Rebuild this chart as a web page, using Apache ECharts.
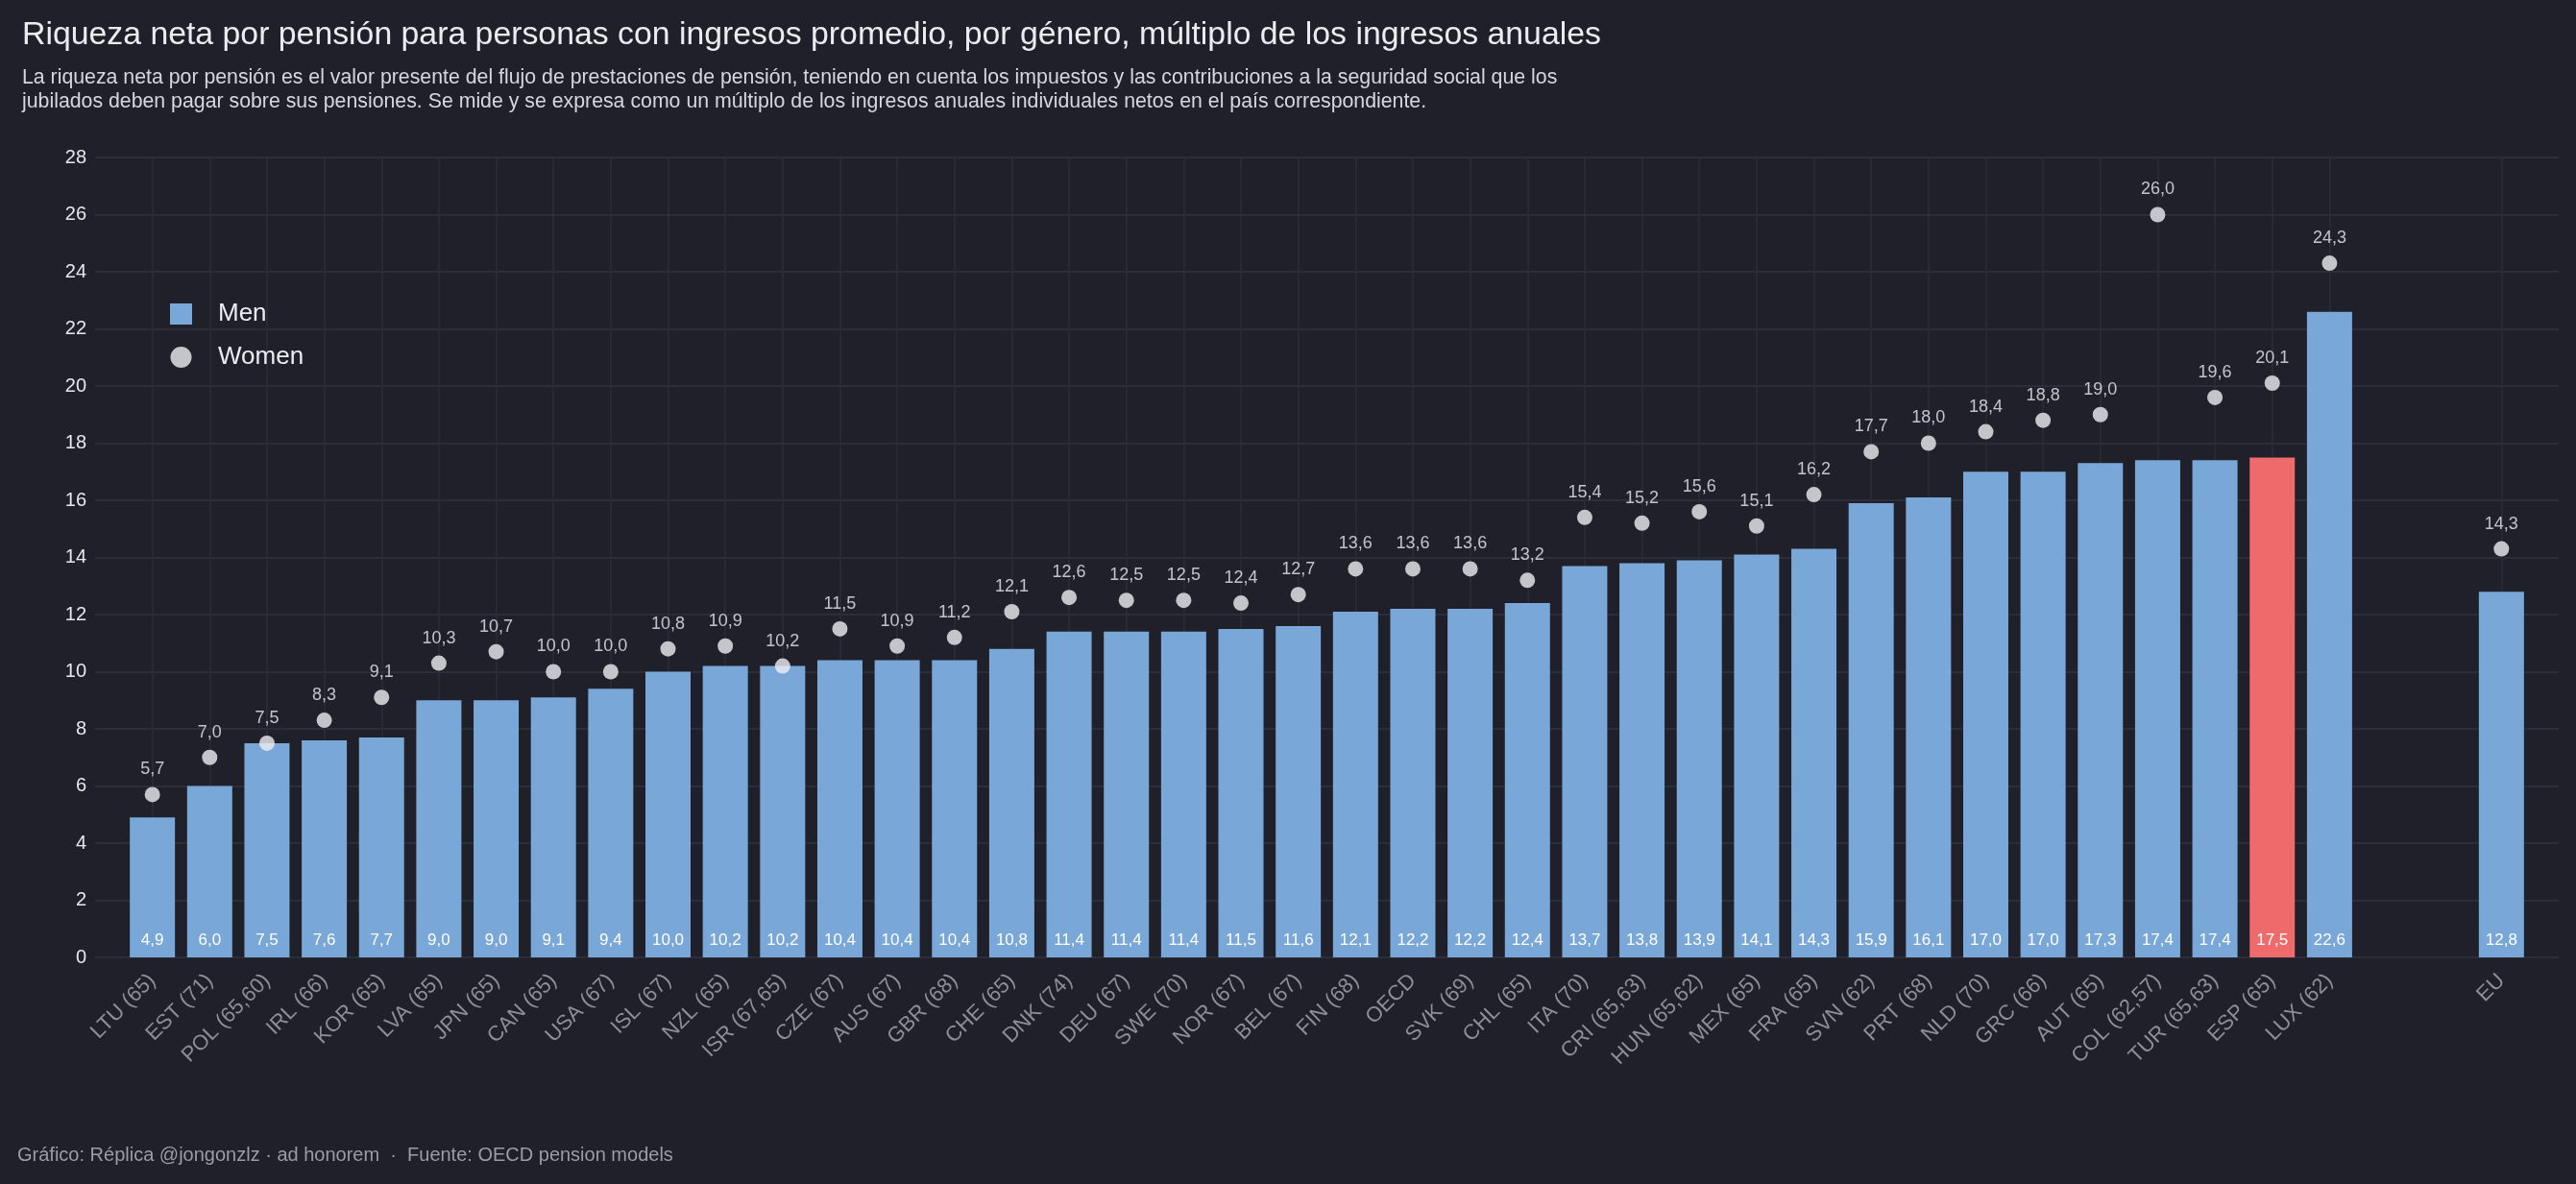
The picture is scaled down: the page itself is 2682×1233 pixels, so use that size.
<!DOCTYPE html>
<html>

<head>
  <meta charset="utf-8">
  <title>Riqueza neta por pensión</title>
  <script src="https://cdn.jsdelivr.net/npm/echarts@6/dist/echarts.min.js"></script>
  <style>
    html,
    body {
      margin: 0;
      padding: 0;
      background: #1f2029;
    }

    #chart {
      width: 2682px;
      height: 1233px;
    }
  </style>
</head>

<body>
  <div id="chart"></div>

  <script>
    // datos
    var countries = ['LTU (65)', 'EST (71)', 'POL (65,60)', 'IRL (66)', 'KOR (65)', 'LVA (65)', 'JPN (65)', 'CAN (65)', 'USA (67)', 'ISL (67)',
      'NZL (65)', 'ISR (67,65)', 'CZE (67)', 'AUS (67)', 'GBR (68)', 'CHE (65)', 'DNK (74)', 'DEU (67)', 'SWE (70)', 'NOR (67)',
      'BEL (67)', 'FIN (68)', 'OECD', 'SVK (69)', 'CHL (65)', 'ITA (70)', 'CRI (65,63)', 'HUN (65,62)', 'MEX (65)', 'FRA (65)',
      'SVN (62)', 'PRT (68)', 'NLD (70)', 'GRC (66)', 'AUT (65)', 'COL (62,57)', 'TUR (65,63)', 'ESP (65)', 'LUX (62)'];
    var men = [4.9, 6.0, 7.5, 7.6, 7.7, 9.0, 9.0, 9.1, 9.4, 10.0,
      10.2, 10.2, 10.4, 10.4, 10.4, 10.8, 11.4, 11.4, 11.4, 11.5,
      11.6, 12.1, 12.2, 12.2, 12.4, 13.7, 13.8, 13.9, 14.1, 14.3,
      15.9, 16.1, 17.0, 17.0, 17.3, 17.4, 17.4, 17.5, 22.6];
    var women = [5.7, 7.0, 7.5, 8.3, 9.1, 10.3, 10.7, 10.0, 10.0, 10.8,
      10.9, 10.2, 11.5, 10.9, 11.2, 12.1, 12.6, 12.5, 12.5, 12.4,
      12.7, 13.6, 13.6, 13.6, 13.2, 15.4, 15.2, 15.6, 15.1, 16.2,
      17.7, 18.0, 18.4, 18.8, 19.0, 26.0, 19.6, 20.1, 24.3];
    var euLabel = 'EU';
    var euMen = 12.8;
    var euWomen = 14.3;
    var highlight = 'ESP (65)';
    var yTicks = { min: 0, max: 28, step: 2 };

    var BG = '#1f2029';
    var BLUE = '#78a7d8';
    var RED = '#ef6b6b';
    var FONT = 'Liberation Sans';

    function fmt(v) {
      return v.toFixed(1).replace('.', ',');
    }

    // eje: hueco al principio, países, dos huecos, EU, hueco al final
    var axisData = [''].concat(countries, ['', '', euLabel, '']);
    var menData = [null];
    var womenData = [null];
    for (var i = 0; i < countries.length; i++) {
      menData.push({
        value: men[i],
        itemStyle: { color: countries[i] === highlight ? RED : BLUE }
      });
      womenData.push(women[i]);
    }
    menData.push(null, null, { value: euMen, itemStyle: { color: BLUE } }, null);
    womenData.push(null, null, euWomen, null);

    var chart = echarts.init(document.getElementById('chart'));
    var option = {
      backgroundColor: BG,
      animation: false,
      textStyle: { fontFamily: FONT },
      title: {
        left: 18,
        top: 15,
        text: 'Riqueza neta por pensión para personas con ingresos promedio, por género, múltiplo de los ingresos anuales',
        textStyle: { color: '#ebebf0', fontSize: 33.8, fontWeight: 'normal', fontFamily: FONT },
        subtext: 'La riqueza neta por pensión es el valor presente del flujo de prestaciones de pensión, teniendo en cuenta los impuestos y las contribuciones a la seguridad social que los\njubilados deben pagar sobre sus pensiones. Se mide y se expresa como un múltiplo de los ingresos anuales individuales netos en el país correspondiente.',
        subtextStyle: { color: '#d6d7de', fontSize: 21.3, lineHeight: 25, fontFamily: FONT },
        itemGap: 15
      },
      legend: {
        orient: 'vertical',
        left: 172,
        top: 309,
        itemWidth: 23,
        itemHeight: 22,
        itemGap: 19,
        textStyle: { color: '#ebebf0', fontSize: 26, padding: [0, 0, 0, 22], fontFamily: FONT },
        data: [
          { name: 'Men', icon: 'rect' },
          { name: 'Women', icon: 'circle' }
        ]
      },
      grid: {
        left: 99,
        right: 18,
        top: 164,
        bottom: 236
      },
      xAxis: {
        type: 'category',
        boundaryGap: false,
        data: axisData,
        axisLine: { show: false },
        axisTick: { show: false },
        axisLabel: {
          interval: 0,
          rotate: 45,
          margin: 21,
          color: '#8c8f99',
          fontSize: 22,
          fontFamily: FONT
        },
        splitLine: {
          show: true,
          interval: function (index, value) { return value !== ''; },
          lineStyle: { color: '#2b2d38', width: 1.5 }
        }
      },
      yAxis: {
        type: 'value',
        min: yTicks.min,
        max: yTicks.max,
        interval: yTicks.step,
        axisLine: { show: false },
        axisTick: { show: false },
        axisLabel: { color: '#e6e6ec', fontSize: 20, margin: 9, fontFamily: FONT },
        splitLine: { lineStyle: { color: '#2b2d38', width: 2 } }
      },
      series: [
        {
          name: 'Men',
          type: 'bar',
          barWidth: 47,
          itemStyle: { color: BLUE },
          label: {
            show: true,
            position: 'insideBottom',
            distance: 9,
            color: '#ffffff',
            fontSize: 17,
            fontFamily: FONT,
            formatter: function (p) { return fmt(p.value); }
          },
          data: menData,
          z: 2
        },
        {
          name: 'Women',
          type: 'scatter',
          symbol: 'circle',
          symbolSize: 16,
          itemStyle: { color: '#ededf2' },
          label: {
            show: true,
            position: 'top',
            distance: 9,
            color: '#ebebf0',
            fontSize: 18,
            fontFamily: FONT,
            formatter: function (p) { return fmt(p.value); }
          },
          data: womenData,
          z: 3
        }
      ],
      graphic: [
        {
          type: 'text',
          left: 18,
          top: 1193,
          style: {
            text: 'Gráfico: Réplica @jongonzlz · ad honorem  ·  Fuente: OECD pension models',
            fill: '#9a9ca6',
            fontSize: 20,
            fontFamily: FONT
          }
        }
      ]
    };
    chart.setOption(option);
  </script>
</body>

</html>
